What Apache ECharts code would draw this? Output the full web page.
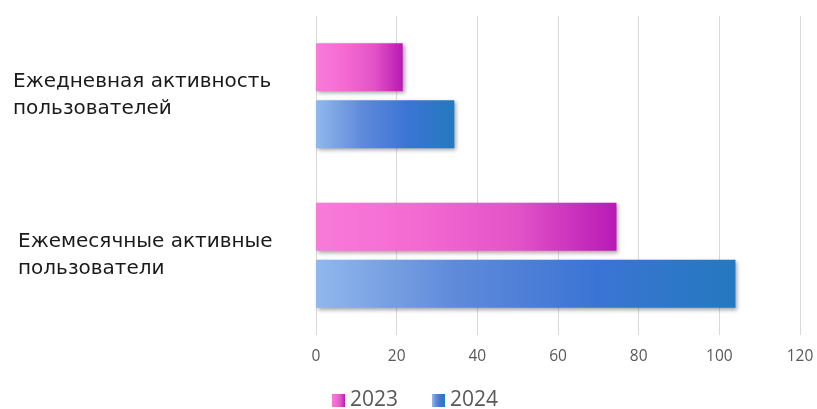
<!DOCTYPE html>
<html><head><meta charset="utf-8">
<script src="https://cdn.jsdelivr.net/npm/echarts@6/dist/echarts.min.js"></script>
<style>html,body{margin:0;padding:0;background:#fff}#c{width:817px;height:409px}</style>
</head><body><div id="c"></div>
<script>
const categories = ['Ежедневная активность\nпользователей', 'Ежемесячные активные\nпользователи'];
const seriesNames = ['2023', '2024'];
const values2023 = [21.5, 74.5];
const values2024 = [34.3, 104];
const xTicks = [0, 20, 40, 60, 80, 100, 120];

const grad = (stops) => new echarts.graphic.LinearGradient(0, 0, 1, 0, stops.map((c, i) => ({offset: i / (stops.length - 1), color: c})));
const pink = grad(['#f87bd9', '#f46ad2', '#e353c8', '#b81ab4']);
const blue = grad(['#91b8ec', '#5f8ada', '#3b74d4', '#2479bf']);

const chart = echarts.init(document.getElementById('c'));
chart.setOption({
  animation: false,
  grid: {left: 316, right: 17, top: 16, bottom: 74, containLabel: false},
  legend: {
    bottom: -7, left: 327, itemWidth: 13, itemHeight: 13, itemGap: 34,
    icon: 'rect',
    textStyle: {fontSize: 21, color: '#595959', fontFamily: 'Open Sans'},
    data: seriesNames
  },
  xAxis: {
    type: 'value', min: xTicks[0], max: xTicks[xTicks.length - 1], interval: 20,
    axisLine: {show: false}, axisTick: {show: false},
    splitLine: {lineStyle: {color: '#d9d9d9', width: 1}},
    axisLabel: {color: '#595959', fontSize: 15.5, fontFamily: 'Open Sans', margin: 14}
  },
  yAxis: {
    type: 'category', data: categories, inverse: true,
    axisLine: {show: false}, axisTick: {show: false},
    axisLabel: {
      align: 'left', margin: 303,
      formatter: (v, i) => i === 0 ? '{a|' + v.split('\n').join('}\n{a|') + '}' : '{b|' + v.split('\n').join('}\n{b|') + '}',
      rich: {
        a: {color: '#1a1a1a', fontSize: 20, fontFamily: 'DejaVu Sans', lineHeight: 27},
        b: {color: '#1a1a1a', fontSize: 20, fontFamily: 'DejaVu Sans', lineHeight: 27, padding: [0, 0, 0, 5]}
      }
    }
  },
  series: [
    {name: seriesNames[0], type: 'bar', data: values2023, barWidth: 48, barGap: '19%',
     itemStyle: {color: pink, shadowColor: 'rgba(0,0,0,0.35)', shadowBlur: 4, shadowOffsetX: 2, shadowOffsetY: 2}},
    {name: seriesNames[1], type: 'bar', data: values2024, barWidth: 48, barGap: '19%',
     itemStyle: {color: blue, shadowColor: 'rgba(0,0,0,0.35)', shadowBlur: 4, shadowOffsetX: 2, shadowOffsetY: 2}}
  ]
});
</script></body></html>
